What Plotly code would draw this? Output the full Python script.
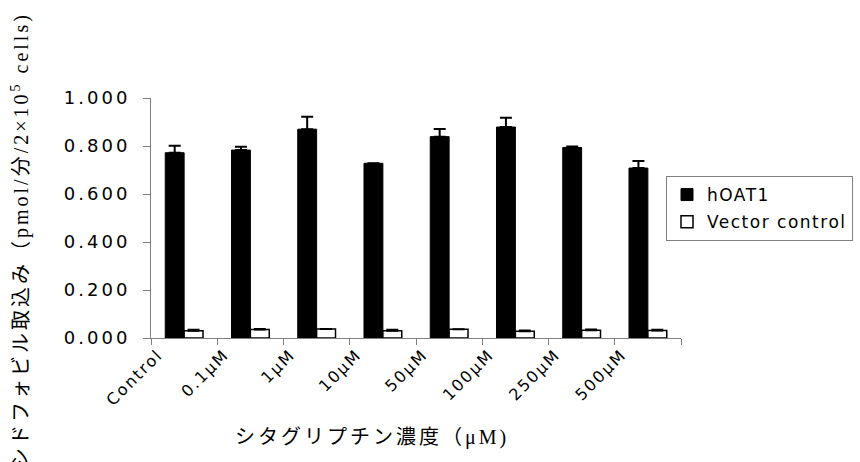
import plotly.graph_objects as go

categories = ["Control", "0.1μM", "1μM", "10μM", "50μM", "100μM", "250μM", "500μM"]
hoat1_values = [0.772, 0.783, 0.870, 0.728, 0.839, 0.879, 0.794, 0.708]
hoat1_errors = [0.029, 0.014, 0.052, 0.0, 0.032, 0.039, 0.004, 0.029]
vector_values = [0.030, 0.035, 0.038, 0.030, 0.036, 0.028, 0.032, 0.031]
vector_errors = [0.004, 0.003, 0.0, 0.004, 0.0, 0.003, 0.003, 0.003]
y_tick_values = [0.0, 0.2, 0.4, 0.6, 0.8, 1.0]
y_tick_labels = ["0.000", "0.200", "0.400", "0.600", "0.800", "1.000"]
series_names = ["hOAT1", "Vector control"]
y_title = "シドフォビル取込み（pmol/分/2×10<sup>5</sup> cells)"
x_title = "シタグリプチン濃度（μM)"


def spaced(text, px):
    return '<span style="letter-spacing:%spx">%s</span>' % (px, text)


fig = go.Figure()
fig.add_trace(go.Bar(
    x=categories, y=hoat1_values, name=spaced(series_names[0], 1.5),
    legendgroup="a",
    marker=dict(color="black", line=dict(color="black", width=1)),
    error_y=dict(type="data", symmetric=False, array=hoat1_errors,
                 arrayminus=[0] * len(hoat1_errors),
                 color="black", thickness=2, width=6),
))
fig.add_trace(go.Bar(
    x=categories, y=vector_values, name=spaced(series_names[1], 1.5),
    legendgroup="b",
    marker=dict(color="white", line=dict(color="black", width=1.5)),
    error_y=dict(type="data", symmetric=False, array=vector_errors,
                 arrayminus=[0] * len(vector_errors),
                 color="black", thickness=2, width=6),
))

tick_font = dict(family="DejaVu Sans, Arial, sans-serif", size=16, color="black")
title_font = dict(family="Liberation Serif, Noto Sans CJK JP, serif", size=20, color="black")

fig.update_layout(
    width=860, height=462,
    margin=dict(l=151, r=179, t=98, b=124, autoexpand=False),
    paper_bgcolor="white", plot_bgcolor="white",
    barmode="group", bargap=0.43, bargroupgap=0,
    showlegend=True,
    legend=dict(
        x=(666 - 151) / 530, xanchor="left", y=0.675, yanchor="top",
        bordercolor="#808080", borderwidth=1, bgcolor="white",
        font=dict(family="DejaVu Sans, Arial, sans-serif", size=17, color="black"),
        tracegroupgap=2,
    ),
    xaxis=dict(
        type="category",
        tickmode="array", tickvals=categories,
        ticktext=[spaced(c, 2) for c in categories],
        tickangle=-45, tickfont=tick_font,
        ticks="outside", tickson="boundaries", ticklen=6, tickcolor="#808080",
        showline=True, linecolor="#808080", linewidth=1,
        showgrid=False, zeroline=False,
        ticklabelshift=-26,
    ),
    yaxis=dict(
        range=[0, 1], tickmode="array", tickvals=y_tick_values,
        ticktext=[spaced(t, 3) for t in y_tick_labels],
        tickfont=dict(family="DejaVu Sans, Arial, sans-serif", size=18, color="black"),
        ticks="outside", ticklen=7, tickcolor="#808080",
        showline=True, linecolor="#808080", linewidth=1,
        showgrid=False, zeroline=False,
        ticklabelstandoff=9,
    ),
    annotations=[
        dict(text=spaced(y_title, 3), textangle=-90,
             xref="paper", yref="paper",
             x=(20 - 151) / 530, y=(338 - 240) / 240,
             xanchor="center", yanchor="middle", showarrow=False,
             font=title_font),
        dict(text=spaced(x_title, 3),
             xref="paper", yref="paper",
             x=(372 - 151) / 530, y=(338 - 437) / 240,
             xanchor="center", yanchor="middle", showarrow=False,
             font=title_font),
    ],
)

fig.write_html("out.html", config={"displayModeBar": False},
               post_script="document.body.style.margin='0';")
